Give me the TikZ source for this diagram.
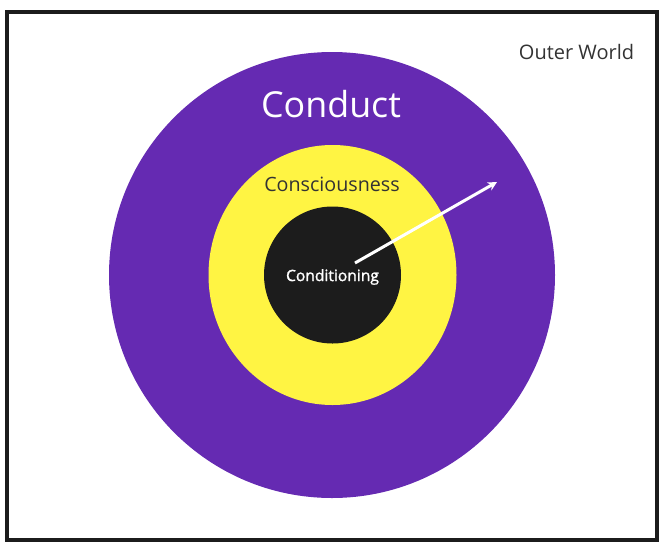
\documentclass[tikz,border=0pt]{standalone}
\usepackage{fontspec}
\setmainfont{Open Sans}
\usetikzlibrary{arrows.meta,shapes.geometric}
\definecolor{cpurple}{HTML}{652AB2}
\definecolor{cyellow}{HTML}{FFF443}
\definecolor{cblack}{HTML}{1C1C1C}
\definecolor{ctext}{HTML}{333333}
\tikzset{
  ring/.style={circle, draw=none, inner sep=0pt},
  lbl/.style={inner sep=0pt, font=#1},
}
\begin{document}
\begin{tikzpicture}[x=1pt,y=-1pt]
\useasboundingbox (0,0) rectangle (664,547);
\node[draw=cblack, line width=3.4pt, minimum width=650pt, minimum height=528pt, inner sep=0pt] (frame) at (332,276) {};
\node[ring, fill=cpurple, minimum size=446pt] (conduct) at (332,275) {};
\node[ellipse, draw=none, inner sep=0pt, fill=cyellow, minimum width=248pt, minimum height=260pt] (conscious) at (332.5,275) {};
\node[ring, fill=cblack, minimum size=137pt] (cond) at (332.5,275) {};
\node[lbl={\fontsize{20}{24}\selectfont}, text=ctext] (outer) at (576.5,52) {Outer World};
\node[lbl={\fontsize{35.8}{42}\selectfont}, text=white] (conductlbl) at (331,104) {Conduct};
\node[lbl={\fontsize{19.7}{23}\selectfont}, text=ctext] (consclbl) at (332,184) {Consciousness};
\node[lbl={\fontsize{15.6}{18}\selectfont\addfontfeatures{FakeBold=1.5}}, text=white] (condlbl) at (332.5,277) {Conditioning};
\coordinate (astart) at (355,263);
\coordinate (aend) at (497,182);
\draw[white, line width=3pt, -{Stealth[length=9pt,width=9pt]}] (astart) -- (aend);
\end{tikzpicture}
\end{document}
